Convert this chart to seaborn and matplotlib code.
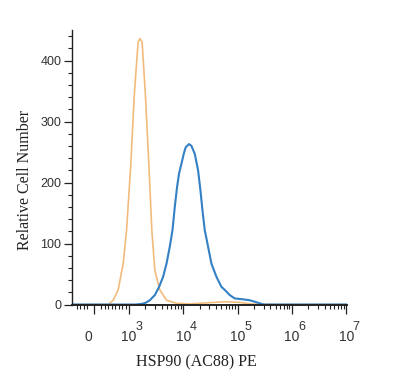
# HSP90 (AC88) PE のフローサイトメトリー・ヒストグラム

import matplotlib
matplotlib.use("Agg")
import matplotlib.pyplot as plt
from matplotlib import transforms
import pandas as pd
import seaborn as sns


# 蛍光強度（PE）と相対細胞数
ISOTYPE_X = [-623, 400, 543, 686, 829, 926, 1075, 1236, 1368, 1464, 1590, 1735,
             2003, 2303, 2615, 2973, 3674, 4878, 7447, 13100, 30500, 57700,
             109000, 166000, 388000, 1.03e7]
ISOTYPE_Y = [0, 0, 7, 24, 67, 122, 231, 340, 395, 430, 436, 430,
             340, 231, 122, 56, 24, 7, 2, 1, 3, 4.5,
             3.5, 1, 0, 0]

HSP90_X = [-623, 1273, 1714, 2029, 2403, 2973, 3565, 4223, 4878, 5610, 6290,
           6934, 7642, 8318, 9204, 10200, 11040, 12700, 14060, 16180, 18620, 20600,
           22400, 24710, 28440, 32840, 40560, 50120, 57670, 71300, 88100,
           125300, 166400, 205600, 254000, 301000, 1.03e7]
HSP90_Y = [0, 0, 1, 3, 7, 15.5, 29, 45.5, 67, 95, 122,
           160, 193, 215, 231, 248, 258, 263, 260, 247, 220, 187,
           155, 122, 95, 67, 45.5, 29, 24, 15.5, 10,
           8.5, 7, 4.6, 2, 0, 0]

X_MAJOR = [0, 1e3, 1e4, 1e5, 1e6, 1e7]
X_EXPONENTS = ["", "3", "4", "5", "6", "7"]
X_BASE_LABELS = ["0", "10", "10", "10", "10", "10"]
Y_MAJOR = [0, 100, 200, 300, 400]

COLORS = {"isotype": "#F2BB7C", "HSP90": "#3380C5"}


sns.set_theme(style="ticks")
plt.rcParams["font.family"] = ["Liberation Sans", "DejaVu Sans"]

df = pd.concat(
    [
        pd.DataFrame({"PE": ISOTYPE_X, "count": ISOTYPE_Y, "sample": "isotype"}),
        pd.DataFrame({"PE": HSP90_X, "count": HSP90_Y, "sample": "HSP90"}),
    ],
    ignore_index=True,
)

fig = plt.figure(figsize=(4.0, 3.78), dpi=100)
ax = fig.add_axes([0.181, 0.1944, 0.6863, 0.7262])

sns.lineplot(
    data=df, x="PE", y="count", hue="sample", palette=COLORS,
    estimator=None, sort=False, linewidth=1.2, legend=False, ax=ax,
)
ax.lines[1].set_linewidth(1.5)

ax.set_xscale("symlog", linthresh=1000, linscale=0.58)
ax.set_xlim(-623, 1.03e7)
ax.set_ylim(0, 450)

minor_x = [v for v in range(-500, -100, 100)] + [v for v in range(200, 1000, 100)]
for k in range(3, 7):
    minor_x += [m * 10 ** k for m in range(2, 10)]
ax.set_xticks(X_MAJOR)
ax.set_xticks(minor_x, minor=True)
ax.set_xticklabels(X_BASE_LABELS)
ax.set_yticks(Y_MAJOR)
ax.set_yticks([v for v in range(20, 450, 20) if v % 100], minor=True)

sns.despine(ax=ax)
ax.spines["left"].set_linewidth(1.0)
ax.spines["bottom"].set_linewidth(1.4)
ax.spines["left"].set_color("#222222")
ax.spines["bottom"].set_color("#222222")

ax.tick_params(axis="x", which="major", length=6.3, width=0.9, pad=12,
               labelsize=10, colors="#222222", labelcolor="#333333")
ax.tick_params(axis="x", which="minor", length=2.9, width=0.8, colors="#222222")
ax.tick_params(axis="y", which="major", length=5.5, width=0.9, pad=2.5,
               labelsize=9, colors="#222222", labelcolor="#333333")
ax.tick_params(axis="y", which="minor", length=2.9, width=0.8, colors="#222222")

# 0 のラベルは目盛りより少し左
zero_label = ax.get_xticklabels()[0]
zero_label.set_transform(
    zero_label.get_transform()
    + transforms.ScaledTranslation(-6 / 100, 0, fig.dpi_scale_trans)
)

# 10 の指数
blend = transforms.blended_transform_factory(ax.transData, ax.transAxes)
for pos, exp in zip(X_MAJOR, X_EXPONENTS):
    if exp:
        ax.annotate(exp, xy=(pos, 0), xycoords=blend, xytext=(4.6, -12.1),
                    textcoords="offset points", ha="left", va="top",
                    fontsize=9, color="#333333", annotation_clip=False)

ax.set_xlabel("HSP90 (AC88) PE", family="Liberation Serif", fontsize=11.5, color="#222222")
ax.set_ylabel("Relative Cell Number", family="Liberation Serif", fontsize=11.5, color="#222222")
ax.xaxis.set_label_coords(0.4517, -0.180)
ax.yaxis.set_label_coords(-0.144, 0.4536)

fig.savefig("out.png", dpi=100)
